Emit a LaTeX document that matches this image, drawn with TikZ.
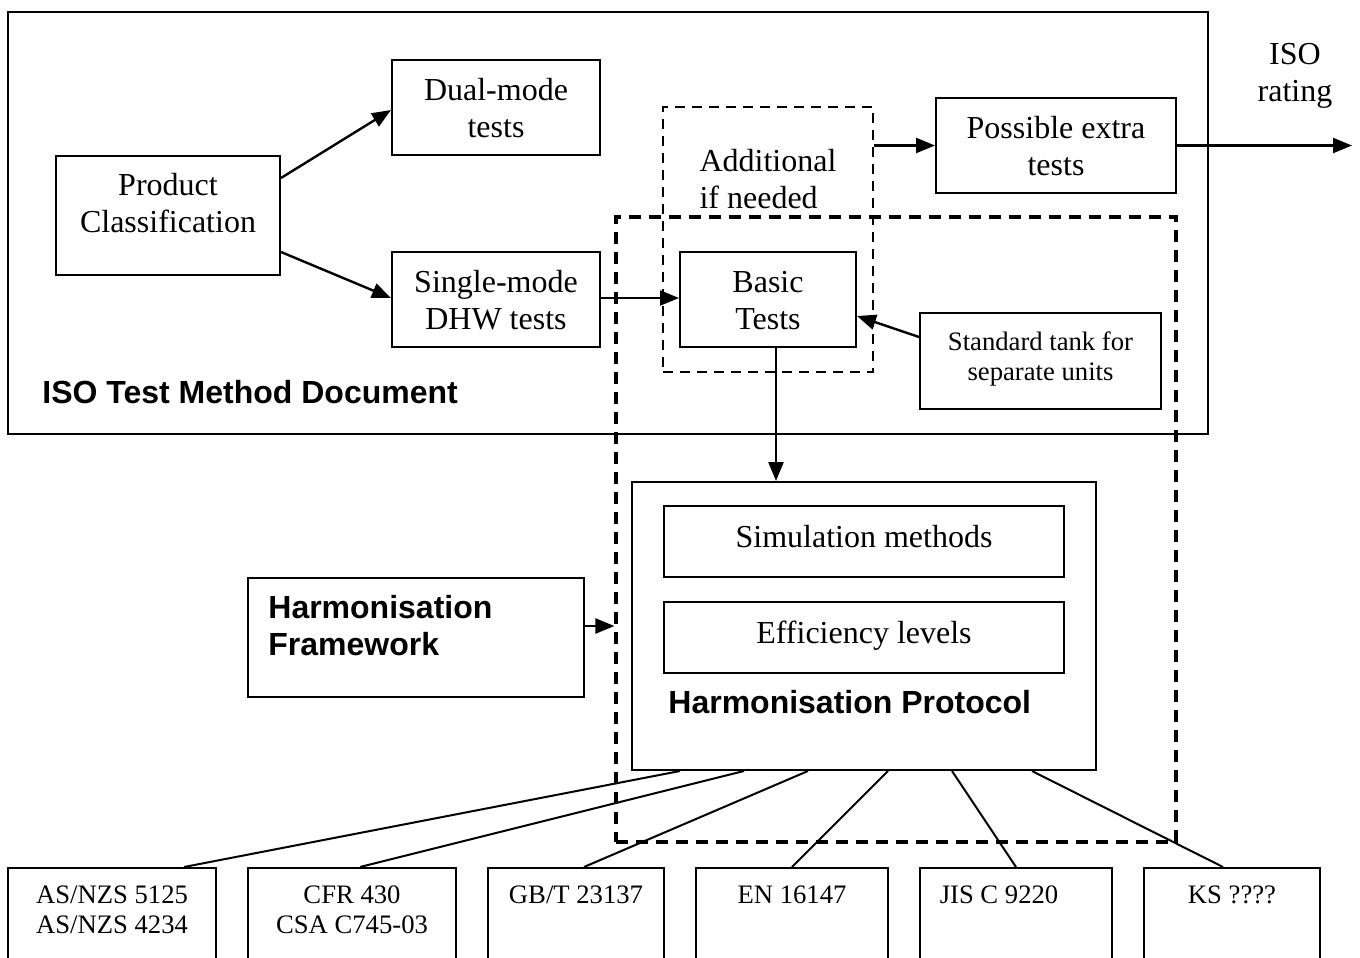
\documentclass[tikz,border=0pt]{standalone}
\usepackage{fontspec}
\setmainfont{Liberation Serif}
\setsansfont{Liberation Sans}
\usetikzlibrary{arrows.meta}
\begin{document}
\begin{tikzpicture}[x=0.5pt,y=-0.5pt,
  box/.style={draw,line width=1pt,rectangle,inner sep=0pt},
  bigdash/.style={draw,line width=1.6pt,dash pattern=on 6pt off 4pt,rectangle,inner sep=0pt},
  thindash/.style={draw,line width=1.1pt,dash pattern=on 5pt off 3.5pt,rectangle,inner sep=0pt},
  txt/.style={font=\fontsize{16pt}{18.5pt}\selectfont,align=center,inner sep=0pt},
  stxt/.style={font=\fontsize{13.33pt}{15pt}\selectfont,align=center,inner sep=0pt},
  btxt/.style={font=\fontsize{16pt}{18.5pt}\selectfont\sffamily\bfseries,align=left,inner sep=0pt},
  arr/.style={line width=1.2pt,-{Triangle[length=9.5pt,width=7.5pt]}},
  link/.style={line width=1pt}]
\useasboundingbox[fill=white] (0,0) rectangle (1360,958);
\clip (0,0) rectangle (1360,958);

% ISO test method document frame
\node[box,minimum width=600pt,minimum height=211pt] (iso) at (608,223) {};
\node[btxt,anchor=west] (isolabel) at (42,392) {ISO Test Method Document};

% test boxes
\node[box,minimum width=112pt,minimum height=59.5pt] (prod) at (168,215.5) {};
\node[txt] (prodtxt) at (168,203.5) {Product\\Classification};

\node[box,minimum width=104pt,minimum height=47.5pt] (dual) at (496,107.5) {};
\node[txt] (dualtxt) at (496,108) {Dual-mode\\tests};

\node[box,minimum width=104pt,minimum height=47.5pt] (single) at (496,299.5) {};
\node[txt] (singletxt) at (496,300.5) {Single-mode\\DHW tests};

\node[thindash,minimum width=105pt,minimum height=132.5pt] (addl) at (768,239.5) {};
\node[txt,align=left] (addltxt) at (768,179) {Additional\\if needed};

\node[box,minimum width=88pt,minimum height=47.5pt] (basic) at (768,299.5) {};
\node[txt] (basictxt) at (768,300.5) {Basic\\Tests};

\node[box,minimum width=120pt,minimum height=47.5pt] (extra) at (1056,145.5) {};
\node[txt] (extratxt) at (1056,146) {Possible extra\\tests};

\node[box,minimum width=120.5pt,minimum height=48pt] (tank) at (1040.5,361) {};
\node[stxt] (tanktxt) at (1040.5,359) {Standard tank for\\separate units};

\node[txt] (rating) at (1295,76) {ISO\\rating};
\coordinate (out) at (1352,145.5);

% harmonisation area
\node[bigdash,minimum width=280pt,minimum height=312.5pt] (harm) at (896,529.5) {};

\node[box,minimum width=232pt,minimum height=144pt] (proto) at (864,626) {};
\node[box,minimum width=200pt,minimum height=35.5pt] (sim) at (864,541.5) {};
\node[txt,anchor=base] (simtxt) at (864,547.5) {Simulation methods};
\node[box,minimum width=200pt,minimum height=35.5pt] (eff) at (864,637.5) {};
\node[txt,anchor=base] (efftxt) at (864,643.5) {Efficiency levels};
\node[btxt,anchor=west] (protolabel) at (668,702) {Harmonisation Protocol};

\node[box,minimum width=168pt,minimum height=59.5pt] (frame) at (416,637.5) {};
\node[btxt,anchor=west] (frametxt) at (268,625.5) {Harmonisation\\Framework};

% national standards
\node[box,minimum width=104pt,minimum height=51pt] (b1) at (112,919) {};
\node[box,minimum width=104pt,minimum height=51pt] (b2) at (352,919) {};
\node[box,minimum width=88pt,minimum height=51pt] (b3) at (576,919) {};
\node[box,minimum width=96pt,minimum height=51pt] (b4) at (792,919) {};
\node[box,minimum width=96pt,minimum height=51pt] (b5) at (1016,919) {};
\node[box,minimum width=88pt,minimum height=51pt] (b6) at (1232,919) {};
\node[stxt,anchor=north] (t1) at (112,885) {AS/NZS 5125\\AS/NZS 4234};
\node[stxt,anchor=north] (t2) at (352,885) {CFR 430\\CSA C745-03};
\node[stxt,anchor=north] (t3) at (576,885) {GB/T 23137};
\node[stxt,anchor=north] (t4) at (792,885) {EN 16147};
\node[stxt,anchor=north] (t5) at (999,885) {JIS C 9220};
\node[stxt,anchor=north] (t6) at (1232,885) {KS ????};

% arrows
\draw[arr] (prod.east |- 0,178) -- (dual.west |- 0,110);
\draw[arr] (prod.east |- 0,252) -- (single.west |- 0,298);
\draw[arr] (single.east |- 0,298) -- (basic.west |- 0,298);
\draw[arr] (addl.east |- 0,145.5) -- (extra.west |- 0,145.5);
\draw[arr] (extra.east) -- (out);
\draw[arr] (tank.west |- 0,337) -- (basic.east |- 0,316);
\draw[arr] (776,0 |- basic.south) -- (776,0 |- proto.north);
\draw[arr] (frame.east |- 0,626) -- (harm.west |- 0,626);

% links to national standards
\draw[link] (680,0 |- proto.south) -- (184,0 |- b1.north);
\draw[link] (744,0 |- proto.south) -- (360,0 |- b2.north);
\draw[link] (808,0 |- proto.south) -- (584,0 |- b3.north);
\draw[link] (888,0 |- proto.south) -- (b4.north);
\draw[link] (952,0 |- proto.south) -- (b5.north);
\draw[link] (1032,0 |- proto.south) -- (1223,0 |- b6.north);
\end{tikzpicture}
\end{document}
